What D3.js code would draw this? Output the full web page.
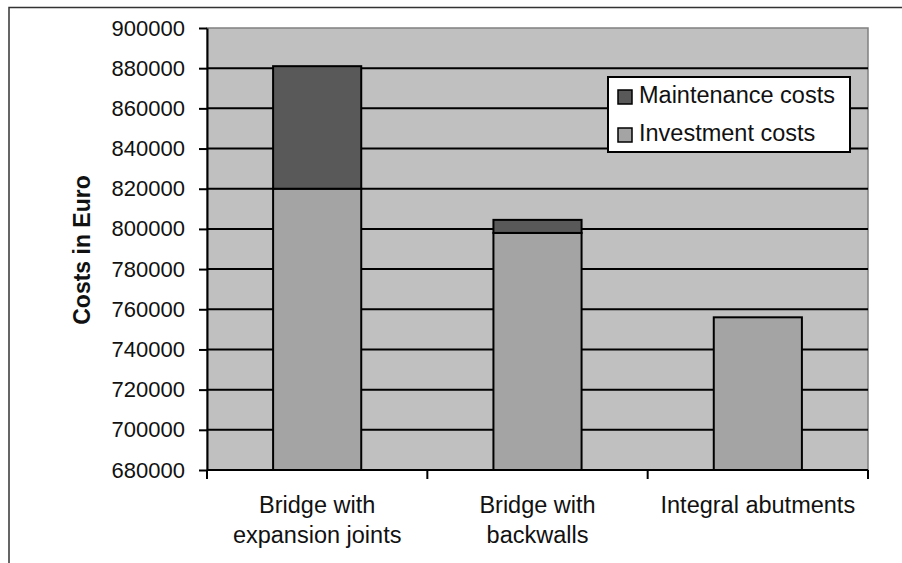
<!DOCTYPE html>
<html>
<head>
<meta charset="utf-8">
<script src="https://cdn.jsdelivr.net/npm/d3@7"></script>
<style>
  html, body { margin: 0; padding: 0; background: #fff; }
  svg { display: block; }
  text { font-family: "Liberation Sans", Arial, sans-serif; fill: #111; }
</style>
</head>
<body>
<svg id="chart" width="902" height="563"></svg>
<script>
// Cost comparison of bridge types (stacked: investment + maintenance)
const categories = ["Bridge with expansion joints", "Bridge with backwalls", "Integral abutments"];
const categoryLines = [["Bridge with", "expansion joints"], ["Bridge with", "backwalls"], ["Integral abutments"]];
const investmentCosts = [820000, 798000, 756000];
const maintenanceCosts = [61000, 6500, 0];
const yTicks = [680000, 700000, 720000, 740000, 760000, 780000, 800000, 820000, 840000, 860000, 880000, 900000];
const seriesNames = ["Maintenance costs", "Investment costs"];

const colors = { plot: "#c0c0c0", investment: "#a4a4a4", maintenance: "#595959" };

const svg = d3.select("#chart");
const plot = { left: 207, right: 868, top: 28, bottom: 470 };

// outer frame (top and left edges)
svg.append("path")
  .attr("d", "M9,563 L9,7.5 L902,7.5")
  .attr("fill", "none").attr("stroke", "#333").attr("stroke-width", 1.5);

const x = d3.scaleBand()
  .domain(categories)
  .range([plot.left, plot.right])
  .paddingInner(0.6)
  .paddingOuter(0.3);

const y = d3.scaleLinear()
  .domain([yTicks[0], yTicks[yTicks.length - 1]])
  .range([plot.bottom, plot.top]);

// plot background
svg.append("rect")
  .attr("x", plot.left).attr("y", plot.top)
  .attr("width", plot.right - plot.left).attr("height", plot.bottom - plot.top)
  .attr("fill", colors.plot)
  .attr("stroke", "#808080").attr("stroke-width", 1.5);

// horizontal gridlines
svg.append("g")
  .selectAll("line")
  .data(yTicks.slice(1, -1))
  .join("line")
  .attr("x1", plot.left).attr("x2", plot.right)
  .attr("y1", d => y(d)).attr("y2", d => y(d))
  .attr("stroke", "#000").attr("stroke-width", 2);

// stacked bars
const stackData = categories.map((c, i) => ({
  category: c,
  investment: investmentCosts[i],
  maintenance: maintenanceCosts[i]
}));
const stack = d3.stack().keys(["investment", "maintenance"]);
const layers = stack(stackData);

svg.append("g")
  .selectAll("g")
  .data(layers)
  .join("g")
  .attr("fill", d => colors[d.key])
  .selectAll("rect")
  .data(d => d.filter(s => s[1] > s[0]))
  .join("rect")
  .attr("x", d => x(d.data.category))
  .attr("width", x.bandwidth())
  .attr("y", d => y(d[1]))
  .attr("height", d => y(Math.max(d[0], yTicks[0])) - y(d[1]))
  .attr("stroke", "#000")
  .attr("stroke-width", 2);

// y axis
const yAxis = d3.axisLeft(y)
  .tickValues(yTicks)
  .tickFormat(d3.format("d"))
  .tickSize(8)
  .tickPadding(14)
  .tickSizeOuter(0);
const gy = svg.append("g")
  .attr("transform", `translate(${plot.left},0)`)
  .call(yAxis);
gy.select(".domain").attr("stroke", "#000").attr("stroke-width", 2);
gy.selectAll(".tick line").attr("stroke", "#000").attr("stroke-width", 2);
gy.selectAll(".tick text")
  .attr("font-size", 22)
  .attr("font-family", "Liberation Sans, Arial, sans-serif")
  .attr("fill", "#111");

// x axis baseline and category boundary ticks
const gx = svg.append("g");
gx.append("line")
  .attr("x1", plot.left).attr("x2", plot.right)
  .attr("y1", plot.bottom).attr("y2", plot.bottom)
  .attr("stroke", "#000").attr("stroke-width", 2);
const boundaries = d3.range(categories.length + 1).map(i => plot.left + i * x.step());
gx.selectAll("line.tick")
  .data(boundaries)
  .join("line")
  .attr("class", "tick")
  .attr("x1", d => d).attr("x2", d => d)
  .attr("y1", plot.bottom).attr("y2", plot.bottom + 9)
  .attr("stroke", "#000").attr("stroke-width", 2);

// category labels
const labels = svg.append("g")
  .selectAll("text")
  .data(categories)
  .join("text")
  .attr("x", d => x(d) + x.bandwidth() / 2)
  .attr("y", 513)
  .attr("text-anchor", "middle")
  .attr("font-size", 23.5);
labels.selectAll("tspan")
  .data((d, i) => categoryLines[i])
  .join("tspan")
  .attr("x", function () { return d3.select(this.parentNode).attr("x"); })
  .attr("dy", (d, i) => i === 0 ? 0 : 30)
  .text(d => d);

// y axis title
svg.append("text")
  .attr("transform", "translate(90,250) rotate(-90)")
  .attr("text-anchor", "middle")
  .attr("font-size", 23)
  .attr("font-weight", "bold")
  .text("Costs in Euro");

// legend
const legend = svg.append("g").attr("transform", "translate(608,77)");
legend.append("rect")
  .attr("width", 242).attr("height", 75)
  .attr("fill", "#fff").attr("stroke", "#000").attr("stroke-width", 2);
const legendColors = [colors.maintenance, colors.investment];
const items = legend.selectAll("g.item")
  .data(seriesNames)
  .join("g")
  .attr("class", "item")
  .attr("transform", (d, i) => `translate(10,${13 + i * 38})`);
items.append("rect")
  .attr("width", 14).attr("height", 14)
  .attr("fill", (d, i) => legendColors[i])
  .attr("stroke", "#000").attr("stroke-width", 1.5);
items.append("text")
  .attr("x", 21).attr("y", 13)
  .attr("font-size", 23.5)
  .text(d => d);
</script>
</body>
</html>
